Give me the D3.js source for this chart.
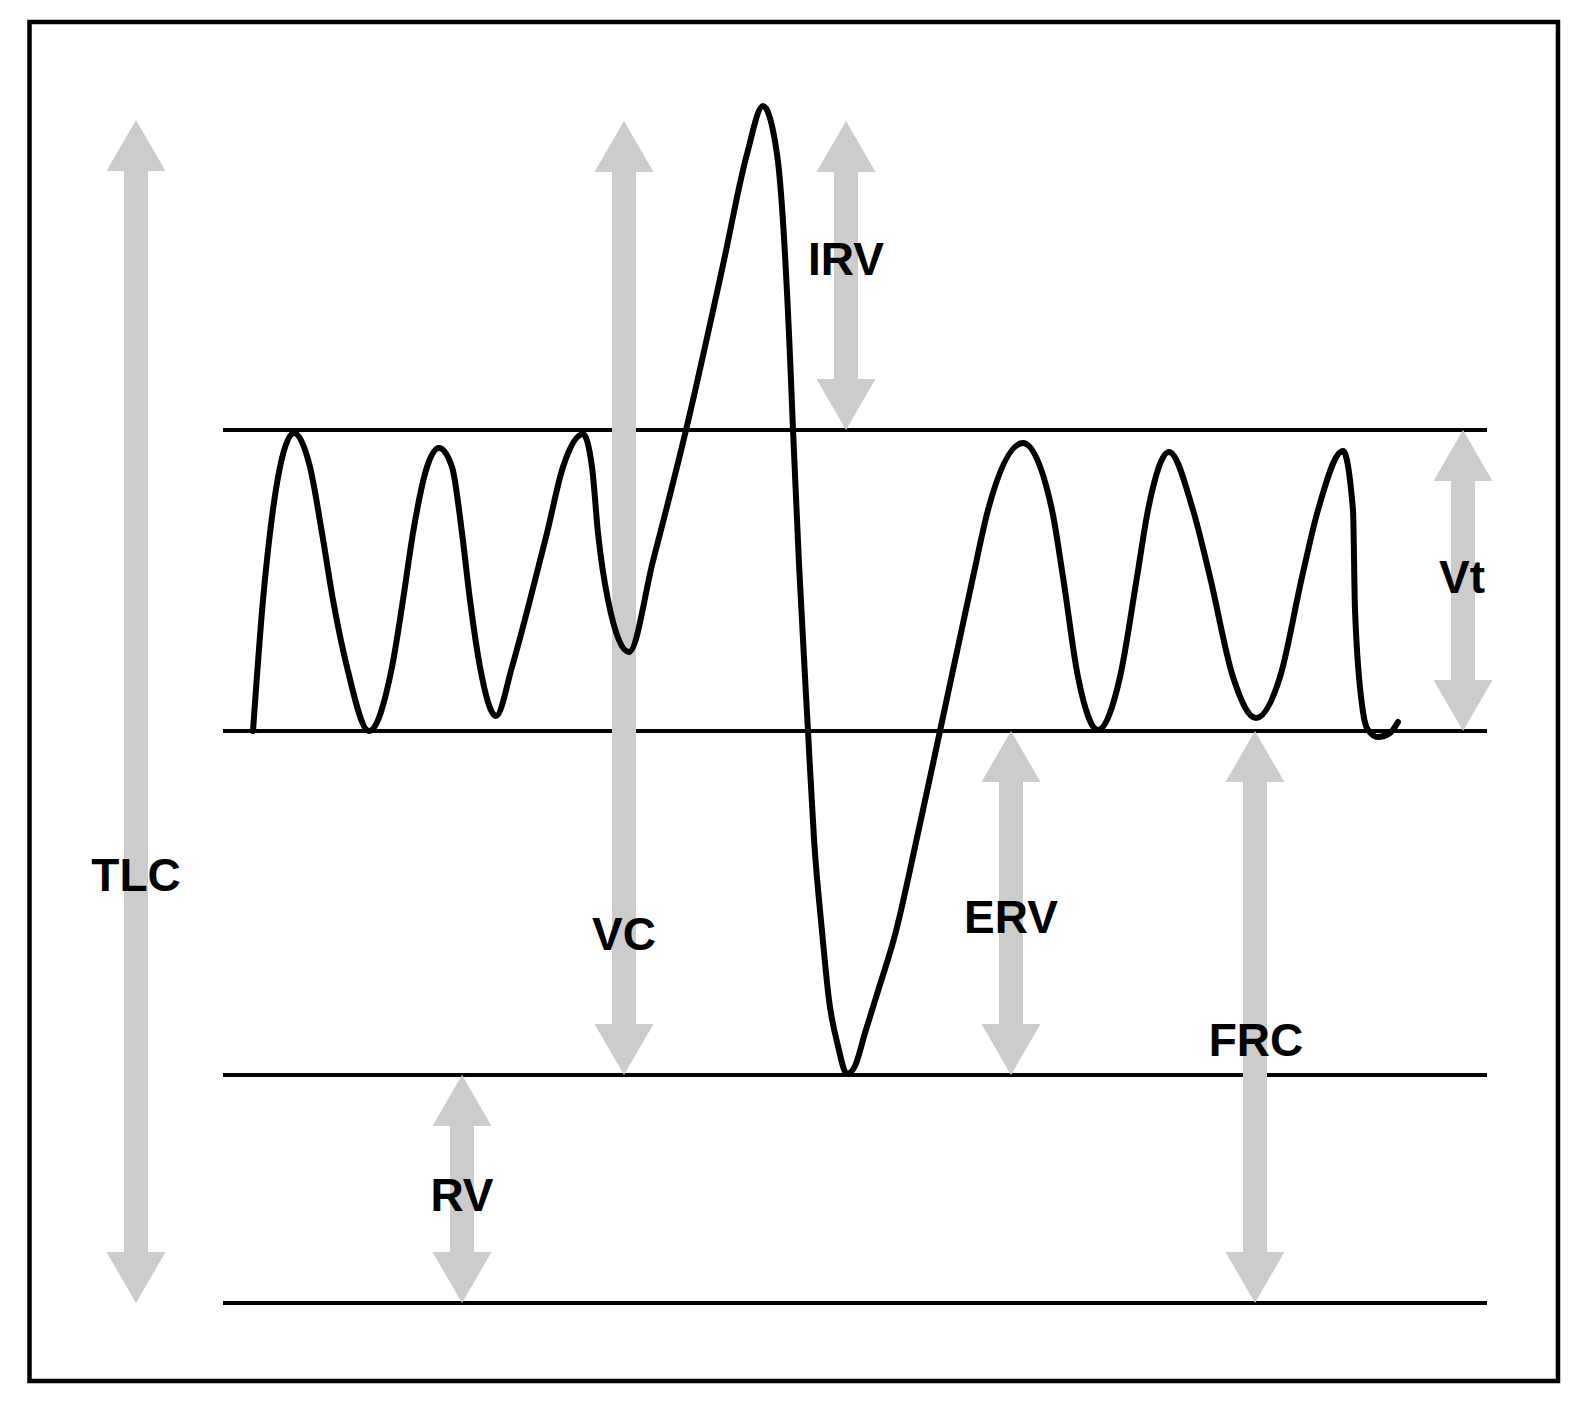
<!DOCTYPE html>
<html>
<head>
<meta charset="utf-8">
<script src="https://cdn.jsdelivr.net/npm/d3@7"></script>
<style>
  html, body { margin: 0; padding: 0; background: #fff; }
  svg { display: block; }
</style>
</head>
<body>
<svg id="chart" width="1580" height="1405"></svg>
<script>
// ---- Data (time units, volume units) ----
// Spirometer trace: time and volume
const traceT = [30, 40, 47, 57, 71, 87, 99, 110, 124, 146,
  169, 180, 190, 204, 216, 229, 239, 247, 257, 273,
  289, 307, 324, 340, 360, 369, 375, 385, 406,
  430, 463, 500, 524, 540, 554, 568, 570, 576, 585, 591, 599, 606, 615, 624,
  632, 642, 655, 672, 695, 717, 750, 765, 800,
  829, 840, 855, 875,
  897, 914, 925, 946,
  970, 987, 1010, 1033,
  1057, 1079, 1095, 1120,
  1130, 1132, 1140, 1145, 1155, 1167, 1175];
const traceV = [572, 703, 770, 836, 870, 836, 770, 703, 636, 572,
  636, 703, 770, 836, 855, 836, 770, 703, 636, 587,
  636, 703, 770, 836, 869, 836, 770, 703, 651,
  742, 873, 1038, 1149, 1197, 1149, 923, 873, 739, 572, 464, 372, 303, 257, 229,
  237, 270, 312, 368, 470, 572, 726, 793, 860,
  793, 726, 626, 573,
  626, 726, 793, 851,
  793, 726, 626, 585,
  626, 726, 793, 852,
  793, 693, 591, 573, 566, 570, 581];

// Reference volume levels (horizontal lines)
const levelNames = ["baseline", "RV", "FRC", "end-inspiration"];
const levelValues = [0, 228, 572, 873];
const levelStart = 0, levelEnd = 1264;

// Capacity arrows
const arrowNames = ["TLC", "VC", "IRV", "Vt", "ERV", "FRC", "RV"];
const arrowT     = [-87, 401, 623, 1240, 788, 1032, 239];
const arrowTop   = [1183, 1182, 1182, 873, 572, 572, 228];
const arrowBot   = [0, 228, 873, 572, 228, 0, 0];

// Labels
const labelTexts = ["TLC", "VC", "IRV", "Vt", "ERV", "FRC", "RV"];
const labelT     = [-87, 401, 623, 1239, 788, 1033, 239];
const labelV     = [412, 353, 1028, 710, 370, 247, 92];

// ---- Scales ----
const x = d3.scaleLinear().domain([0, 1264]).range([223, 1487]);
const y = d3.scaleLinear().domain([0, 1197]).range([1303, 106]);

const svg = d3.select("#chart");

// frame
svg.append("rect")
  .attr("x", 29.5).attr("y", 22)
  .attr("width", 1528.5).attr("height", 1359)
  .attr("fill", "none").attr("stroke", "#000").attr("stroke-width", 4.5);

// horizontal level lines
svg.append("g").selectAll("line")
  .data(levelValues)
  .join("line")
  .attr("x1", x(levelStart)).attr("x2", x(levelEnd))
  .attr("y1", d => y(d)).attr("y2", d => y(d))
  .attr("stroke", "#000").attr("stroke-width", 4.2);

// arrows
const shaftHalf = 12, headHalf = 29.5, headLen = 51;
function arrowPath(i) {
  const cx = x(arrowT[i]);
  const yt = y(arrowTop[i]);
  const yb = y(arrowBot[i]);
  const p = d3.path();
  p.moveTo(cx, yt);
  p.lineTo(cx + headHalf, yt + headLen);
  p.lineTo(cx + shaftHalf, yt + headLen);
  p.lineTo(cx + shaftHalf, yb - headLen);
  p.lineTo(cx + headHalf, yb - headLen);
  p.lineTo(cx, yb);
  p.lineTo(cx - headHalf, yb - headLen);
  p.lineTo(cx - shaftHalf, yb - headLen);
  p.lineTo(cx - shaftHalf, yt + headLen);
  p.lineTo(cx - headHalf, yt + headLen);
  p.closePath();
  return p.toString();
}
svg.append("g").selectAll("path")
  .data(arrowNames.map((n, i) => i))
  .join("path")
  .attr("d", i => arrowPath(i))
  .attr("fill", "#cccccc");

// trace
const pts = traceT.map((t, i) => [t, traceV[i]]);
const line = d3.line()
  .x(d => x(d[0])).y(d => y(d[1]))
  .curve(d3.curveMonotoneX);
svg.append("path")
  .datum(pts)
  .attr("d", line)
  .attr("fill", "none")
  .attr("stroke", "#000")
  .attr("stroke-width", 6)
  .attr("stroke-linejoin", "round")
  .attr("stroke-linecap", "round");

// labels
svg.append("g").selectAll("text")
  .data(labelTexts.map((s, i) => i))
  .join("text")
  .attr("x", i => x(labelT[i]))
  .attr("y", i => y(labelV[i]))
  .attr("text-anchor", "middle")
  .attr("font-family", "'Liberation Sans', Arial, Helvetica, sans-serif")
  .attr("font-weight", "bold")
  .attr("font-size", 46)
  .attr("fill", "#000")
  .text(i => labelTexts[i]);
</script>
</body>
</html>
